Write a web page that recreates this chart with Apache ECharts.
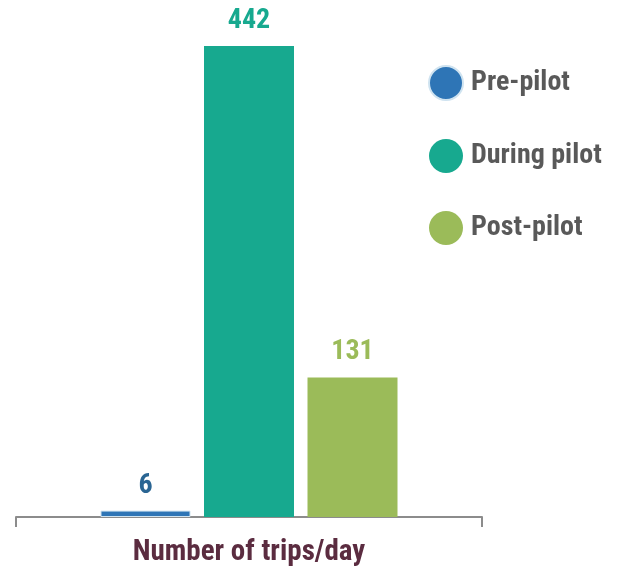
<!DOCTYPE html>
<html>
<head>
<meta charset="utf-8">
<script src="https://cdn.jsdelivr.net/npm/echarts@6/dist/echarts.min.js"></script>
<style>html,body{margin:0;padding:0;background:#fff}#c{width:619px;height:570px}</style>
</head>
<body>
<div id="c"></div>
<script>
const categories = ["Number of trips/day"];
const seriesNames = ["Pre-pilot", "During pilot", "Post-pilot"];
const preValues = [6];
const duringValues = [442];
const postValues = [131];

const FONT = '"Roboto Condensed","Liberation Sans Narrow","DejaVu Sans Condensed","Arial Narrow",sans-serif';
const barColors = ['#2e75b6', '#17a98f', '#9bbb59'];
const labelColors = ['#2a6593', '#17a98f', '#9bbb59'];
const valuesList = [preValues, duringValues, postValues];

const chart = echarts.init(document.getElementById('c'), null, {renderer: 'canvas'});
chart.setOption({
  animation: false,
  backgroundColor: '#ffffff',
  grid: {left: 16, right: 137, top: 46, bottom: 53, containLabel: false},
  legend: {
    orient: 'vertical',
    left: 428,
    top: 65,
    padding: 0,
    icon: 'circle',
    itemWidth: 34,
    itemHeight: 34,
    itemGap: 38,
    data: seriesNames,
    textStyle: {color: '#595959', fontSize: 28, fontWeight: 'bold', fontFamily: FONT, padding: [0, 0, 0, 3]}
  },
  xAxis: {
    type: 'category',
    data: categories,
    axisLine: {lineStyle: {color: '#8c8c8c', width: 2}},
    axisTick: {show: true, length: 10, lineStyle: {color: '#8c8c8c', width: 2}},
    axisLabel: {color: '#5b2c40', fontSize: 29, fontWeight: 'bold', fontFamily: FONT, margin: 21}
  },
  yAxis: {type: 'value', min: 0, max: 442, show: false, splitLine: {show: false}},
  series: seriesNames.map((n, i) => ({
    name: n,
    type: 'bar',
    data: valuesList[i],
    barWidth: 90,
    barGap: '15%',
    itemStyle: {color: barColors[i], borderColor: i === 0 ? '#cfe3f0' : 'rgba(0,0,0,0)', borderWidth: i === 0 ? 1 : 0},
    label: {show: true, position: 'top', distance: 11, color: labelColors[i], fontSize: 28, fontWeight: 'bold', fontFamily: FONT}
  }))
});
</script>
</body>
</html>
